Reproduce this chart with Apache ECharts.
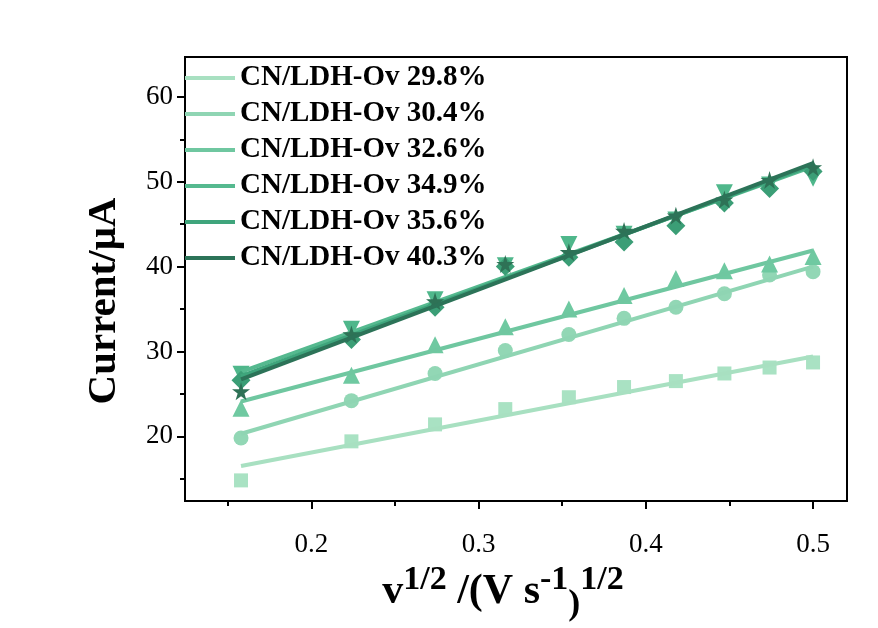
<!DOCTYPE html>
<html>
<head>
<meta charset="utf-8">
<script src="https://cdn.jsdelivr.net/npm/echarts@6/dist/echarts.min.js"></script>
<style>html,body{margin:0;padding:0;background:#fff;}#c{width:878px;height:628px;}</style>
</head>
<body>
<div id="c"></div>
<script>
// x values: square root of scan rate
const xValues = [0.158, 0.224, 0.274, 0.316, 0.354, 0.387, 0.418, 0.447, 0.474, 0.500];
const seriesNames = ['CN/LDH-Ov 29.8%', 'CN/LDH-Ov 30.4%', 'CN/LDH-Ov 32.6%', 'CN/LDH-Ov 34.9%', 'CN/LDH-Ov 35.6%', 'CN/LDH-Ov 40.3%'];
const s298 = [14.8, 19.4, 21.4, 23.2, 24.6, 25.8, 26.5, 27.4, 28.1, 28.7];
const s304 = [19.8, 24.2, 27.4, 30.1, 32.0, 33.9, 35.2, 36.8, 39.0, 39.4];
const s326 = [23.3, 27.2, 30.8, 32.9, 35.0, 36.6, 38.6, 39.5, 40.3, 41.2];
const s349 = [27.3, 32.6, 36.1, 40.1, 42.6, 43.8, 45.5, 48.7, 49.6, 50.4];
const s356 = [26.6, 31.4, 35.2, 40.0, 41.1, 42.9, 44.8, 47.5, 49.2, 51.2];
const s403 = [25.3, 32.0, 35.9, 40.3, 41.7, 44.2, 46.0, 47.9, 50.2, 51.7];
// fitted line end points: [y at first x, y at last x]
const fitX = [0.158, 0.500];
const fit298 = [16.5, 29.4];
const fit304 = [20.3, 40.0];
const fit326 = [24.1, 41.9];
const fit349 = [27.6, 51.8];
const fit356 = [27.1, 52.0];
const fit403 = [26.7, 52.2];
const yMajorTicks = [20, 30, 40, 50, 60];
const yMinorTicks = [15, 25, 35, 45, 55];
const xMajorTicks = [0.2, 0.3, 0.4, 0.5];
const xMinorTicks = [0.15, 0.25, 0.35, 0.45];

const colors = ['#a8e0c1', '#8fd5b3', '#6fc7a0', '#55b98f', '#3fa57c', '#2c7358'];
const markerColors = ['#a9e2c3', '#92d7b5', '#6fc9a1', '#4fb78b', '#3b9e76', '#2e7256'];
const symbols = ['rect', 'circle', 'triangle', 'triangle', 'diamond',
  'path://M50,0 L61,35 L98,35 L68,57 L79,91 L50,70 L21,91 L32,57 L2,35 L39,35 Z'];
const symbolSizes = [14, 15, 17, 17, 19, 18];
const rotates = [0, 0, 0, 180, 0, 0];
const pts = [s298, s304, s326, s349, s356, s403];
const fits = [fit298, fit304, fit326, fit349, fit356, fit403];

const FONT = 'Liberation Serif';
const series = [];
for (let i = 0; i < 6; i++) {
  series.push({
    name: seriesNames[i], type: 'line', xAxisIndex: 0, yAxisIndex: 0,
    data: fitX.map((x, k) => [x, fits[i][k]]),
    showSymbol: false, symbol: 'none',
    lineStyle: { color: colors[i], width: 4 }, itemStyle: { color: colors[i] },
    z: 2 + i, animation: false
  });
}
for (let i = 0; i < 6; i++) {
  series.push({
    name: seriesNames[i], type: 'scatter', xAxisIndex: 0, yAxisIndex: 0,
    data: xValues.map((x, k) => [x, pts[i][k]]),
    symbol: symbols[i], symbolSize: symbolSizes[i], symbolRotate: rotates[i],
    itemStyle: { color: markerColors[i], opacity: 1 },
    z: 1 + i, animation: false
  });
}

const chart = echarts.init(document.getElementById('c'));
chart.setOption({
  backgroundColor: '#fff',
  animation: false,
  grid: { left: 185, right: 31, top: 57, bottom: 119, show: true, borderColor: '#000', borderWidth: 2, backgroundColor: 'transparent' },
  legend: {
    data: seriesNames, left: 185, top: 62, orient: 'vertical', icon: 'rect', padding: 0,
    itemWidth: 50, itemHeight: 4, itemGap: 4,
    textStyle: { fontFamily: FONT, fontWeight: 'bold', fontSize: 29, color: '#000', lineHeight: 32 }
  },
  xAxis: [{
    type: 'value', position: 'bottom', min: 0.1245, max: 0.5203,
    axisLine: { show: true, lineStyle: { color: '#000', width: 2 } },
    axisTick: { show: true, inside: false, length: 8, customValues: xMajorTicks, lineStyle: { color: '#000', width: 2 } },
    axisLabel: { show: true, customValues: xMajorTicks, margin: 30, fontFamily: FONT, fontSize: 27, color: '#000', formatter: v => v.toFixed(1) },
    splitLine: { show: false },
    name: '{v|v}{sup|1/2}{b| /(V s}{sup|-1}{p|)}{sup|1/2}',
    nameLocation: 'middle', nameGap: 62,
    nameTextStyle: {
      padding: [0, 26, 0, 0],
      rich: {
        v: { fontFamily: FONT, fontWeight: 'bold', fontSize: 42, color: '#000', verticalAlign: 'bottom', lineHeight: 50 },
        b: { fontFamily: FONT, fontWeight: 'bold', fontSize: 42, color: '#000', verticalAlign: 'bottom', lineHeight: 50 },
        p: { fontFamily: FONT, fontWeight: 'bold', fontSize: 36, color: '#000', verticalAlign: 'bottom', lineHeight: 50, padding: [0, 0, -10, 0] },
        sup: { fontFamily: FONT, fontWeight: 'bold', fontSize: 34, color: '#000', verticalAlign: 'top', lineHeight: 50 }
      }
    }
  }, {
    type: 'value', position: 'bottom', min: 0.1245, max: 0.5203,
    axisLine: { show: false },
    axisTick: { show: true, inside: false, length: 5, customValues: xMinorTicks, lineStyle: { color: '#000', width: 2 } },
    axisLabel: { show: false }, splitLine: { show: false }
  }],
  yAxis: [{
    type: 'value', position: 'left', min: 12.37, max: 64.7,
    axisLine: { show: true, lineStyle: { color: '#000', width: 2 } },
    axisTick: { show: true, inside: false, length: 8, customValues: yMajorTicks, lineStyle: { color: '#000', width: 2 } },
    axisLabel: { show: true, customValues: yMajorTicks, margin: 12, fontFamily: FONT, fontSize: 27, color: '#000' },
    splitLine: { show: false },
    name: 'Current/μA', nameLocation: 'middle', nameRotate: 90, nameGap: 60,
    nameTextStyle: { fontFamily: FONT, fontWeight: 'bold', fontSize: 41, color: '#000', padding: [0, 44, 0, 0] }
  }, {
    type: 'value', position: 'left', min: 12.37, max: 64.7,
    axisLine: { show: false },
    axisTick: { show: true, inside: false, length: 5, customValues: yMinorTicks, lineStyle: { color: '#000', width: 2 } },
    axisLabel: { show: false }, splitLine: { show: false }
  }],
  series: series
});
</script>
</body>
</html>
